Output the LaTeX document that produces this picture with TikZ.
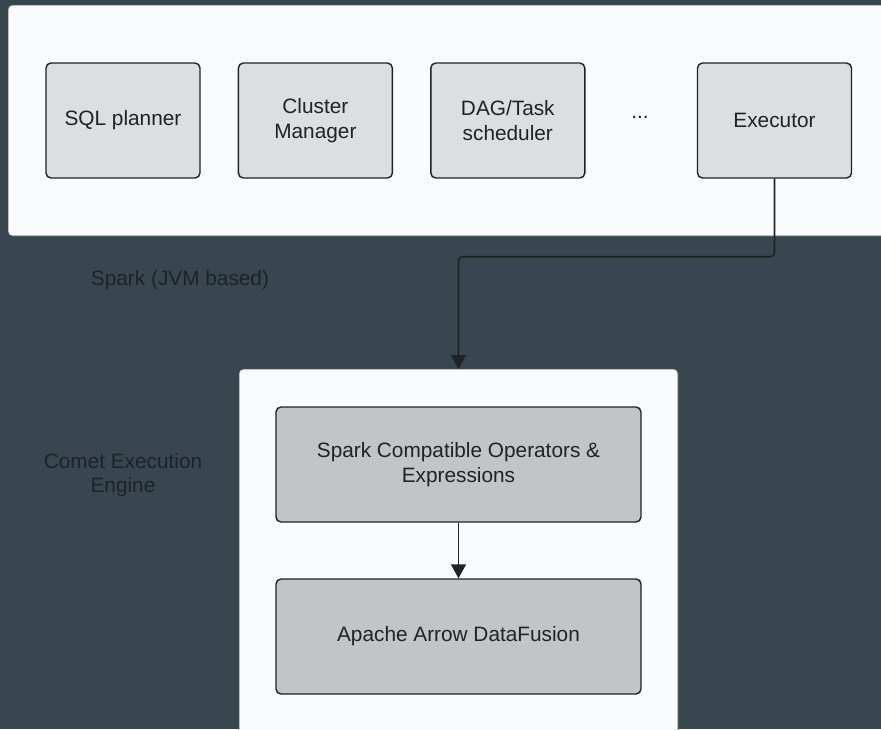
\documentclass[tikz,border=0pt]{standalone}
\usepackage{fontspec}
\setmainfont{Liberation Sans}
\usetikzlibrary{positioning,arrows.meta}
\definecolor{slate}{HTML}{37464F}
\definecolor{panelfill}{HTML}{FAFBFC}
\definecolor{lightbox}{HTML}{DCDEE0}
\definecolor{darkbox}{HTML}{C1C5C7}
\definecolor{ink}{HTML}{1E2326}
\tikzset{
  panel/.style={draw=ink!80, line width=0.8pt, fill=panelfill, rounded corners=4pt},
  comp/.style={draw=ink, line width=1.4pt, fill=lightbox, rounded corners=5pt,
    minimum width=154pt, minimum height=115pt, align=center, text=ink,
    font=\fontsize{20.8}{24.5}\selectfont, inner sep=0pt},
  layer/.style={comp, fill=darkbox, minimum width=365pt},
  caption/.style={text=ink, align=center, font=\fontsize{20.8}{24.5}\selectfont},
  flow/.style={-{Triangle[width=15pt,length=14pt]}, draw=ink, line width=1.6pt}
}
\begin{document}
\begin{tikzpicture}[x=1pt, y=-1pt, node distance=37pt]
      \useasboundingbox (0,0) rectangle (881,729);
      \fill[slate] (0,0) rectangle (881,729);
      % Spark side
      \draw[panel] (8,5) rectangle (895,236);
      \node [comp] (sql) at (123,120.5) {SQL planner};
      \node [comp] (cm) [right=of sql] {Cluster\\Manager};
      \node [comp] (dag) [right=of cm] {DAG/Task\\scheduler};
      \node [text=ink, font=\fontsize{20.8}{24.5}\selectfont] (dots) at (640,117) {...};
      \node [comp] (exec) at (774.5,120.5) {Executor};
      \node [caption] (spark) at (180,280) {Spark (JVM based)};
      % Comet side
      \draw[panel] (239,369) rectangle (678,745);
      \coordinate (comet) at (458.5,369);
      \node [caption] (engine) at (123,475) {Comet Execution\\Engine};
      \node [layer] (ops) at (458.5,464.5) {Spark Compatible Operators \&\\Expressions};
      \node [layer] (df) at (458.5,636.5) {Apache Arrow DataFusion};
      \draw [flow, rounded corners=4pt] (exec.south) -- ++(0,78) -| (comet);
      \draw [flow] (ops) -- (df);
\end{tikzpicture}
\end{document}
